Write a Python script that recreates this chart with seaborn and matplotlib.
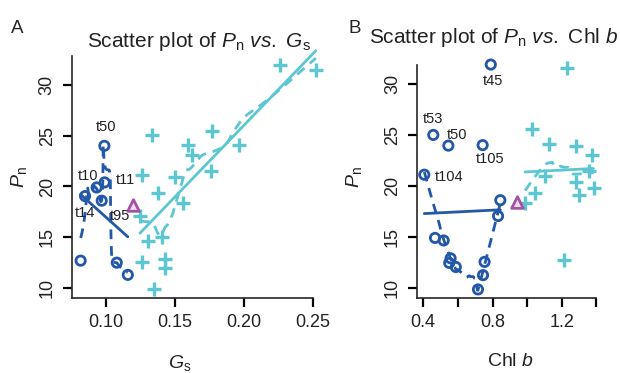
import numpy as np
import matplotlib
matplotlib.use("Agg")
import matplotlib.pyplot as plt
import seaborn as sns

# ---- panel A: Pn vs Gs ----
gs_low = [0.0988, 0.0932, 0.0990, 0.0969, 0.0848, 0.0816, 0.1078, 0.1158]
pn_low_a = [24.0, 19.9, 20.4, 18.6, 19.05, 12.7, 12.5, 11.3]
names_low_a = ["t50", "t10", "t11", "t95", "t14", "", "", ""]

gs_high = [0.1336, 0.1766, 0.1597, 0.1626, 0.1966, 0.1759, 0.1263, 0.1500,
           0.1377, 0.1555, 0.1246, 0.1404, 0.1307, 0.1428, 0.1428, 0.1259,
           0.1345, 0.2260, 0.2522]
pn_high_a = [25.1, 25.5, 24.1, 23.1, 24.1, 21.5, 21.1, 20.95,
             19.4, 18.4, 17.1, 15.05, 14.6, 12.9, 12.0, 12.6,
             9.9, 32.0, 31.5]

gs_break, pn_break_a = 0.1193, 18.2

# ---- panel B: Pn vs Chl b ----
chl_low = [0.790, 0.458, 0.545, 0.743, 0.406, 0.468, 0.518, 0.558, 0.550,
           0.588, 0.716, 0.745, 0.754, 0.832, 0.845]
pn_low_b = [31.9, 25.0, 23.95, 24.0, 21.1, 14.9, 14.65, 12.9, 12.45,
            12.05, 9.85, 11.25, 12.55, 17.05, 18.6]
names_low_b = ["t45", "t53", "t50", "t105", "t104"] + [""] * 10

chl_high = [1.232, 1.030, 1.127, 1.283, 1.377, 1.103, 1.355, 1.283, 1.383,
            1.302, 1.046, 0.988, 1.213]
pn_high_b = [31.6, 25.6, 24.1, 23.9, 23.0, 21.0, 21.5, 20.35, 19.8,
             19.1, 19.3, 18.3, 12.7]

chl_break, pn_break_b = 0.943, 18.4

BLUE = "#2358a8"
CYAN = "#5cc6d3"
PURPLE = "#a452a4"

sns.set_style("ticks")
plt.rcParams["font.family"] = ["Liberation Sans", "DejaVu Sans"]
plt.rcParams["mathtext.fontset"] = "custom"
plt.rcParams["mathtext.rm"] = "Liberation Sans"
plt.rcParams["mathtext.it"] = "Liberation Sans:italic"


def lowess(x, y, frac, iters=3, n=120, ridge=0.0):
    # local linear smoother with tricube weights (optional small ridge on the
    # slope so clustered x values do not blow the fit up)
    x = np.asarray(x, float)
    y = np.asarray(y, float)
    k = max(3, int(np.ceil(frac * len(x))))
    rw = np.ones_like(y)

    def fit_at(x0, w_rob):
        d = np.abs(x - x0)
        h = np.sort(d)[k - 1] * 1.0001 + 1e-12
        w = np.clip(1 - (d / h) ** 3, 0, 1) ** 3 * w_rob
        sw = w.sum()
        xm = (w * x).sum() / sw
        ym = (w * y).sum() / sw
        sxx = (w * (x - xm) ** 2).sum() + ridge * sw * h ** 2
        b = (w * (x - xm) * (y - ym)).sum() / sxx if sxx > 0 else 0.0
        return ym + b * (x0 - xm)

    for _ in range(iters):
        fitted = np.array([fit_at(xi, rw) for xi in x])
        res = y - fitted
        s = np.median(np.abs(res))
        rw = np.clip(1 - (res / (6 * s)) ** 2, 0, 1) ** 2
    grid = np.linspace(x.min(), x.max(), n)
    return grid, np.array([fit_at(g, rw) for g in grid])


def draw_group(ax, x, y, color, marker, frac, iters, ridge=0.0):
    if marker == "o":
        sns.scatterplot(x=x, y=y, ax=ax, marker="o", s=45, color=color,
                        facecolor="none", edgecolor=color, linewidth=2,
                        clip_on=False, zorder=3)
    else:
        sns.scatterplot(x=x, y=y, ax=ax, marker="+", s=110, color=color,
                        linewidth=2.4, clip_on=False, zorder=3)
    slope, icpt = np.polyfit(x, y, 1)
    xs = np.array([min(x), max(x)])
    ax.plot(xs, icpt + slope * xs, color=color, lw=2, clip_on=False, zorder=2)
    gx, gy = lowess(x, y, frac, iters, ridge=ridge)
    ax.plot(gx, gy, color=color, lw=2, ls=(0, (3.5, 2.5)), clip_on=False, zorder=2)


def label_points(ax, x, y, names, offsets):
    for xi, yi, nm in zip(x, y, names):
        if nm:
            ax.annotate(nm, (xi, yi), xytext=offsets[nm], textcoords="offset points",
                        ha="center", va="center", fontsize=10.5, color="#222222")


def style_axis(ax):
    for side in ["top", "right"]:
        ax.spines[side].set_visible(False)
    for side in ["left", "bottom"]:
        ax.spines[side].set_linewidth(1.2)
    ax.tick_params(length=6.5, width=1.6, labelsize=13, pad=5, color="black",
                   labelcolor="#222222")
    for lbl in ax.get_yticklabels():
        lbl.set_rotation(90)
        lbl.set_va("center")


fig = plt.figure(figsize=(6.2, 3.73), dpi=100)
axA = fig.add_axes([0.1156, 0.201, 0.409, 0.650])
axB = fig.add_axes([0.6726, 0.200, 0.295, 0.651])

# panel A
draw_group(axA, gs_low, pn_low_a, BLUE, "o", 0.3, 0, ridge=0.05)
draw_group(axA, gs_high, pn_high_a, CYAN, "+", 0.5, 2)
axA.scatter([gs_break], [pn_break_a], marker="^", s=70, facecolor="#eedcee",
            edgecolor=PURPLE, linewidth=2, zorder=4)
label_points(axA, gs_low, pn_low_a, names_low_a,
             {"t50": (1.4, 13.5), "t10": (-6, 8), "t11": (15, 2), "t14": (0, -12),
              "t95": (13, -11)})
axA.set_xlim(0.0751, 0.259)
axA.set_ylim(9.02, 32.88)
axA.set_xticks([0.10, 0.15, 0.20, 0.25])
axA.set_xticklabels(["0.10", "0.15", "0.20", "0.25"])
axA.set_yticks([10, 15, 20, 25, 30])
axA.spines["bottom"].set_bounds(0.0751, 0.25)
style_axis(axA)
axA.set_xlabel(r"$G_\mathrm{s}$", fontsize=14, color="#222222")
axA.set_ylabel(r"$P_\mathrm{n}$", fontsize=14, color="#222222")
axA.xaxis.set_label_coords(0.427, -0.225)
axA.yaxis.set_label_coords(-0.17, 0.5)

# panel B
draw_group(axB, chl_low, pn_low_b, BLUE, "o", 0.5, 3)
draw_group(axB, chl_high, pn_high_b, CYAN, "+", 0.7, 3)
axB.scatter([chl_break], [pn_break_b], marker="^", s=70, facecolor="#eedcee",
            edgecolor=PURPLE, linewidth=2, zorder=4)
label_points(axB, chl_low, pn_low_b, names_low_b,
             {"t45": (1.4, -11.5), "t53": (0, 11.5), "t50": (6, 8),
              "t105": (5, -10), "t104": (18, -1.4)})
axB.set_xlim(0.364, 1.42)
axB.set_ylim(8.97, 32.78)
axB.set_xticks([0.4, 0.6, 0.8, 1.0, 1.2, 1.4])
axB.set_xticklabels(["0.4", "", "0.8", "", "1.2", ""])
axB.set_yticks([10, 15, 20, 25, 30])
axB.spines["bottom"].set_bounds(0.364, 1.4)
axB.spines["left"].set_bounds(8.97, 31.9)
style_axis(axB)
axB.set_xlabel(r"Chl $b$", fontsize=14, color="#222222")
axB.set_ylabel(r"$P_\mathrm{n}$", fontsize=14, color="#222222")
axB.xaxis.set_label_coords(0.51, -0.225)
axB.yaxis.set_label_coords(-0.29, 0.5)

fig.text(87 / 620, 1 - 47 / 373, r"Scatter plot of $P_\mathrm{n}$ $vs.$ $G_\mathrm{s}$",
         fontsize=15, va="baseline", ha="left", color="#222222")
fig.text(369 / 620, 1 - 43 / 373, r"Scatter plot of $P_\mathrm{n}$ $vs.$ Chl $b$",
         fontsize=15, va="baseline", ha="left", color="#222222")
fig.text(11 / 620, 1 - 33 / 373, "A", fontsize=13.5, va="baseline", ha="left")
fig.text(349 / 620, 1 - 33 / 373, "B", fontsize=13.5, va="baseline", ha="left")

fig.savefig("out.png", dpi=100)
